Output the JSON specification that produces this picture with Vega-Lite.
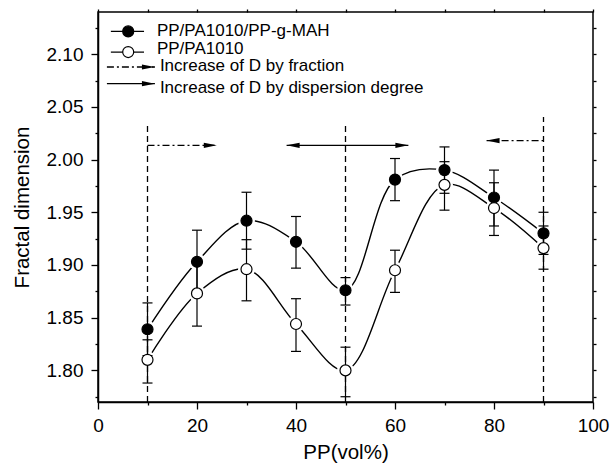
{
  "$schema": "https://vega.github.io/schema/vega-lite/v6.json",
  "width": 495,
  "height": 390,
  "autosize": {"type": "none"},
  "padding": {"left": 98, "top": 12, "right": 21, "bottom": 62},
  "background": "white",
  "config": {
    "view": {"stroke": "black", "strokeWidth": 1.5},
    "font": "Liberation Sans",
    "axis": {
      "domainColor": "black", "tickColor": "black", "labelColor": "black", "titleColor": "black",
      "grid": false, "labelFont": "Liberation Sans", "titleFont": "Liberation Sans",
      "titleFontWeight": "normal", "labelFontSize": 19, "titleFontSize": 20.5,
      "domainWidth": 1.5, "tickWidth": 1.3
    }
  },
  "datasets": {
    "pts": [
      {"x": 10, "y": 1.839, "lo": 1.814, "hi": 1.864, "s": "filled"},
      {"x": 20, "y": 1.903, "lo": 1.873, "hi": 1.933, "s": "filled"},
      {"x": 30, "y": 1.942, "lo": 1.915, "hi": 1.969, "s": "filled"},
      {"x": 40, "y": 1.922, "lo": 1.897, "hi": 1.946, "s": "filled"},
      {"x": 50, "y": 1.876, "lo": 1.862, "hi": 1.888, "s": "filled"},
      {"x": 60, "y": 1.981, "lo": 1.961, "hi": 2.001, "s": "filled"},
      {"x": 70, "y": 1.990, "lo": 1.968, "hi": 2.012, "s": "filled"},
      {"x": 80, "y": 1.964, "lo": 1.937, "hi": 1.990, "s": "filled"},
      {"x": 90, "y": 1.930, "lo": 1.910, "hi": 1.950, "s": "filled"},
      {"x": 10, "y": 1.810, "lo": 1.788, "hi": 1.829, "s": "open"},
      {"x": 20, "y": 1.873, "lo": 1.842, "hi": 1.903, "s": "open"},
      {"x": 30, "y": 1.896, "lo": 1.866, "hi": 1.924, "s": "open"},
      {"x": 40, "y": 1.844, "lo": 1.818, "hi": 1.868, "s": "open"},
      {"x": 50, "y": 1.800, "lo": 1.775, "hi": 1.822, "s": "open"},
      {"x": 60, "y": 1.895, "lo": 1.874, "hi": 1.914, "s": "open"},
      {"x": 70, "y": 1.976, "lo": 1.952, "hi": 1.998, "s": "open"},
      {"x": 80, "y": 1.954, "lo": 1.928, "hi": 1.978, "s": "open"},
      {"x": 90, "y": 1.916, "lo": 1.896, "hi": 1.937, "s": "open"}
    ],
    "vlines": [
      {"x": 10, "y": 1.77, "y2": 2.0355},
      {"x": 50, "y": 1.77, "y2": 2.0355},
      {"x": 90, "y": 1.77, "y2": 2.0405}
    ],
    "arrows": [
      {"x": 10, "x2": 24, "y": 2.0135, "style": "dashdot"},
      {"x": 38.1, "x2": 62.7, "y": 2.0135, "style": "solid"},
      {"x": 78.5, "x2": 90, "y": 2.018, "style": "dashdot"},
      {"x": 1.8, "x2": 11.5, "y": 2.0878, "style": "dashdot"},
      {"x": 1.8, "x2": 11.5, "y": 2.072, "style": "solid"}
    ],
    "heads": [
      {"x": 24, "y": 2.0135, "dir": "right"},
      {"x": 62.7, "y": 2.0135, "dir": "right"},
      {"x": 38.1, "y": 2.0135, "dir": "left"},
      {"x": 78.5, "y": 2.018, "dir": "left"},
      {"x": 11.5, "y": 2.0878, "dir": "right"},
      {"x": 11.5, "y": 2.072, "dir": "right"}
    ],
    "leglines": [
      {"x": 2.6, "x2": 9.3, "y": 2.1216},
      {"x": 2.6, "x2": 9.3, "y": 2.102}
    ],
    "legmarks": [
      {"x": 6.1, "y": 2.1216, "s": "filled"},
      {"x": 6.1, "y": 2.102, "s": "open"}
    ],
    "legtext": [
      {"x": 11.9, "y": 2.1216, "label": "PP/PA1010/PP-g-MAH"},
      {"x": 11.9, "y": 2.1051, "label": "PP/PA1010"},
      {"x": 12.5, "y": 2.0888, "label": "Increase of D by fraction"},
      {"x": 12.5, "y": 2.068, "label": "Increase of D by dispersion degree"}
    ]
  },
  "resolve": {"axis": {"x": "independent", "y": "independent"}},
  "layer": [
    {
      "data": {"name": "pts"},
      "mark": {"type": "line", "interpolate": "catmull-rom", "color": "black", "strokeWidth": 1.4},
      "encoding": {
        "x": {"field": "x", "type": "quantitative", "scale": {"domain": [0, 100], "nice": false, "zero": false},
          "axis": {"values": [0, 20, 40, 60, 80, 100], "tickSize": 7, "labelPadding": 7, "title": "PP(vol%)", "titlePadding": 7, "labelFlush": false}},
        "y": {"field": "y", "type": "quantitative", "scale": {"domain": [1.77, 2.14], "nice": false, "zero": false},
          "axis": {"values": [1.8, 1.85, 1.9, 1.95, 2.0, 2.05, 2.1], "format": ".2f", "tickSize": 7, "labelPadding": 8, "title": "Fractal dimension", "titlePadding": 14, "labelFlush": false}},
        "detail": {"field": "s", "type": "nominal"}
      }
    },
    {
      "data": {"name": "pts"},
      "mark": {"type": "point", "filled": true, "color": "white", "opacity": 1, "size": 289},
      "encoding": {
        "x": {"field": "x", "type": "quantitative", "scale": {"domain": [0, 100], "nice": false, "zero": false},
          "axis": {"orient": "bottom", "values": [10, 30, 50, 70, 90], "tickSize": 3, "labels": false, "domain": false, "title": null}},
        "y": {"field": "y", "type": "quantitative", "scale": {"domain": [1.77, 2.14], "nice": false, "zero": false},
          "axis": {"orient": "left", "values": [1.775, 1.825, 1.875, 1.925, 1.975, 2.025, 2.075, 2.125], "tickSize": 3, "labels": false, "domain": false, "title": null}}
      }
    },
    {
      "data": {"name": "vlines"},
      "mark": {"type": "rule", "color": "black", "strokeWidth": 1.3, "strokeDash": [6, 4]},
      "encoding": {
        "x": {"field": "x", "type": "quantitative", "scale": {"domain": [0, 100], "nice": false, "zero": false}, "axis": null},
        "y": {"field": "y", "type": "quantitative", "scale": {"domain": [1.77, 2.14], "nice": false, "zero": false}, "axis": null},
        "y2": {"field": "y2"}
      }
    },
    {
      "data": {"name": "arrows"},
      "mark": {"type": "rule", "color": "black", "strokeWidth": 1.3},
      "encoding": {
        "x": {"field": "x", "type": "quantitative", "scale": {"domain": [0, 100], "nice": false, "zero": false}, "axis": null},
        "x2": {"field": "x2"},
        "y": {"field": "y", "type": "quantitative", "scale": {"domain": [1.77, 2.14], "nice": false, "zero": false}, "axis": null},
        "strokeDash": {"field": "style", "type": "nominal", "scale": {"domain": ["dashdot", "solid"], "range": [[7, 3, 2, 3], [1, 0]]}, "legend": null}
      }
    },
    {
      "data": {"name": "heads"},
      "transform": [{"filter": "datum.dir === 'right'"}],
      "mark": {"type": "point", "filled": true, "color": "black", "opacity": 1, "size": 169, "shape": "M0,0L-2,-0.4L-2,0.4Z"},
      "encoding": {
        "x": {"field": "x", "type": "quantitative", "scale": {"domain": [0, 100], "nice": false, "zero": false}, "axis": null},
        "y": {"field": "y", "type": "quantitative", "scale": {"domain": [1.77, 2.14], "nice": false, "zero": false}, "axis": null}
      }
    },
    {
      "data": {"name": "heads"},
      "transform": [{"filter": "datum.dir === 'left'"}],
      "mark": {"type": "point", "filled": true, "color": "black", "opacity": 1, "size": 169, "shape": "M0,0L2,-0.4L2,0.4Z"},
      "encoding": {
        "x": {"field": "x", "type": "quantitative", "scale": {"domain": [0, 100], "nice": false, "zero": false}, "axis": null},
        "y": {"field": "y", "type": "quantitative", "scale": {"domain": [1.77, 2.14], "nice": false, "zero": false}, "axis": null}
      }
    },
    {
      "data": {"name": "pts"},
      "mark": {"type": "rule", "color": "black", "strokeWidth": 1.2},
      "encoding": {
        "x": {"field": "x", "type": "quantitative", "scale": {"domain": [0, 100], "nice": false, "zero": false},
          "axis": {"orient": "top", "values": [0, 10, 20, 30, 40, 50, 60, 70, 80, 90, 100], "tickSize": 3, "labels": false, "domain": false, "title": null}},
        "y": {"field": "lo", "type": "quantitative", "scale": {"domain": [1.77, 2.14], "nice": false, "zero": false},
          "axis": {"orient": "right", "values": [1.775, 1.8, 1.825, 1.85, 1.875, 1.9, 1.925, 1.95, 1.975, 2.0, 2.025, 2.05, 2.075, 2.1, 2.125], "tickSize": 3, "labels": false, "domain": false, "title": null}},
        "y2": {"field": "hi"}
      }
    },
    {
      "data": {"name": "pts"},
      "mark": {"type": "tick", "orient": "horizontal", "color": "black", "size": 10, "thickness": 1.2, "opacity": 1},
      "encoding": {
        "x": {"field": "x", "type": "quantitative", "scale": {"domain": [0, 100], "nice": false, "zero": false}, "axis": null},
        "y": {"field": "lo", "type": "quantitative", "scale": {"domain": [1.77, 2.14], "nice": false, "zero": false}, "axis": null}
      }
    },
    {
      "data": {"name": "pts"},
      "mark": {"type": "tick", "orient": "horizontal", "color": "black", "size": 10, "thickness": 1.2, "opacity": 1},
      "encoding": {
        "x": {"field": "x", "type": "quantitative", "scale": {"domain": [0, 100], "nice": false, "zero": false}, "axis": null},
        "y": {"field": "hi", "type": "quantitative", "scale": {"domain": [1.77, 2.14], "nice": false, "zero": false}, "axis": null}
      }
    },
    {
      "data": {"name": "pts"},
      "mark": {"type": "point", "filled": true, "stroke": "black", "strokeWidth": 1.2, "opacity": 1, "size": 121},
      "encoding": {
        "x": {"field": "x", "type": "quantitative", "scale": {"domain": [0, 100], "nice": false, "zero": false}, "axis": null},
        "y": {"field": "y", "type": "quantitative", "scale": {"domain": [1.77, 2.14], "nice": false, "zero": false}, "axis": null},
        "fill": {"field": "s", "type": "nominal", "scale": {"domain": ["filled", "open"], "range": ["black", "white"]}, "legend": null}
      }
    },
    {
      "data": {"name": "leglines"},
      "mark": {"type": "rule", "color": "black", "strokeWidth": 1.3},
      "encoding": {
        "x": {"field": "x", "type": "quantitative", "scale": {"domain": [0, 100], "nice": false, "zero": false}, "axis": null},
        "x2": {"field": "x2"},
        "y": {"field": "y", "type": "quantitative", "scale": {"domain": [1.77, 2.14], "nice": false, "zero": false}, "axis": null}
      }
    },
    {
      "data": {"name": "legmarks"},
      "mark": {"type": "point", "filled": true, "stroke": "black", "strokeWidth": 1.2, "opacity": 1, "size": 121},
      "encoding": {
        "x": {"field": "x", "type": "quantitative", "scale": {"domain": [0, 100], "nice": false, "zero": false}, "axis": null},
        "y": {"field": "y", "type": "quantitative", "scale": {"domain": [1.77, 2.14], "nice": false, "zero": false}, "axis": null},
        "fill": {"field": "s", "type": "nominal", "scale": {"domain": ["filled", "open"], "range": ["black", "white"]}, "legend": null}
      }
    },
    {
      "data": {"name": "legtext"},
      "mark": {"type": "text", "align": "left", "baseline": "middle", "font": "Liberation Sans", "fontSize": 17, "color": "black"},
      "encoding": {
        "x": {"field": "x", "type": "quantitative", "scale": {"domain": [0, 100], "nice": false, "zero": false}, "axis": null},
        "y": {"field": "y", "type": "quantitative", "scale": {"domain": [1.77, 2.14], "nice": false, "zero": false}, "axis": null},
        "text": {"field": "label", "type": "nominal"}
      }
    }
  ]
}
